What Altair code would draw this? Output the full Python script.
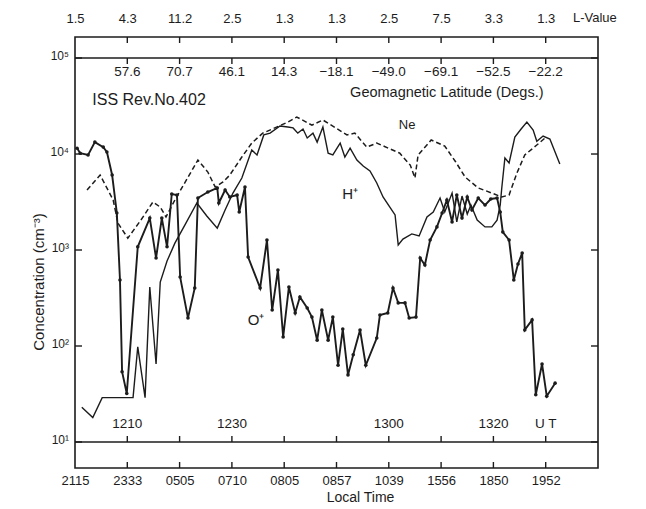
import altair as alt
import pandas as pd

# ---------------- data (x = UT minutes after 12:00) ----------------
ne_t = [2.3, 4.8, 7.3, 8.2, 10.1, 12.6, 14.9, 16.3, 17.4, 19.1, 23.5, 25.4, 26.8, 28.3, 29.6, 31.9,
        33.8, 35.9, 38.2, 40.7, 42.4, 45.3, 47.4, 52.0, 53.5, 55.8, 57.7, 62.1, 64.1, 65.0, 65.6,
        68.1, 70.7, 72.8, 74.6, 77.1, 79.7, 81.6, 83.0, 84.5, 86.0, 88.3, 89.9]
ne_v = [4220, 6040, 3320, 1910, 1330, 2050, 3160, 2800, 2210, 3320, 8660, 6490, 4530, 5110, 6040, 9300,
        13000, 16500, 18700, 21500, 24300, 20000, 22600, 15800, 16500, 11800, 13000, 10200, 7670, 5620, 9770,
        14000, 12100, 8260, 5750, 4430, 3920, 3570, 3740, 6340, 9770, 12400, 14700]

hp_t = [1.3, 3.4, 5.2, 7.1, 9.6, 11.1, 12.0, 13.4, 14.3, 15.5, 16.3, 17.6, 19.1, 21.0, 23.3,
        25.2, 27.2, 28.7, 30.2, 31.9, 33.8, 34.8, 36.1, 37.3, 39.2, 40.7, 41.7, 42.6, 43.6, 44.4,
        45.5, 46.3, 47.4, 48.4, 49.3, 50.7, 51.6, 52.6, 53.9, 55.1, 56.4, 57.7, 58.9, 60.2, 61.2,
        61.8, 62.7, 64.4, 65.8, 67.3, 68.5, 69.8, 70.7, 72.1, 73.0, 74.0, 75.0, 75.7, 76.9, 78.4,
        79.7, 80.7, 81.3, 81.6, 82.2, 83.0, 84.1, 85.3, 86.4, 87.6, 88.3, 89.5, 90.8, 92.7]
hp_v = [23, 18, 29, 29, 29, 29, 98, 29, 412, 65, 464, 767, 1180, 1820, 3090,
        2260, 1690, 2610, 3920, 5620, 11000, 9770, 15800, 16500, 19600, 19100, 18700, 16500, 18200, 14700,
        16500, 13300, 19100, 10200, 9770, 13000, 9300, 11500, 8660, 7500, 6650, 4990, 3570, 2800, 2320,
        1130, 1300, 1470, 1400, 2210, 2490, 3480, 2490, 3920, 1960, 3650, 2370, 2940, 2050, 1740,
        1740, 2050, 2940, 4430, 9090, 8060, 15000, 18200, 21500, 17800, 13600, 15400, 14300, 7870]

op_t = [0.4, 1.0, 2.5, 3.8, 5.4, 6.1, 7.1, 8.0, 8.6, 9.0, 9.9, 12.0, 14.3, 15.5, 16.6,
        17.6, 18.5, 19.5, 20.1, 21.6, 22.9, 23.5, 25.4, 27.2, 27.5, 28.7, 29.6, 31.0, 31.4, 32.5,
        33.1, 35.4, 36.7, 37.7, 38.8, 39.8, 40.9, 42.1, 43.0, 44.4, 45.3, 46.3, 47.2, 48.4, 49.3,
        50.3, 51.2, 52.2, 53.2, 54.5, 55.6, 57.7, 58.3, 59.8, 60.8, 61.8, 63.1, 63.9, 65.2, 66.0,
        66.9, 67.9, 69.2, 70.2, 71.1, 72.1, 73.0, 74.0, 75.0, 75.9, 77.1, 78.4, 79.5, 80.7, 81.3,
        81.8, 83.0, 83.9, 84.7, 85.5, 86.0, 87.4, 88.1, 89.3, 90.2, 91.8]
op_v = [11500, 10200, 9770, 13300, 11800, 10500, 6040, 2430, 487, 54, 32, 1080, 2150, 826, 2150,
        1080, 3830, 3740, 524, 196, 402, 3480, 4020, 4430, 3090, 4220, 3570, 3740, 2490, 4530,
        845, 402, 1270, 237, 619, 124, 412, 221, 324, 249, 200, 115, 237, 115, 200,
        63, 150, 50, 81, 147, 63, 121, 210, 221, 402, 281, 281, 196, 200, 826,
        698, 1270, 1740, 2430, 3320, 1960, 3740, 2150, 3570, 2610, 3480, 2940, 3400, 3480, 2490,
        1540, 1270, 487, 715, 931, 147, 187, 31, 65, 30, 41]

tick_t = [0, 10, 20, 30, 40, 50, 60, 70, 80, 90]
lt_labels = ["2115", "2333", "0505", "0710", "0805", "0857", "1039", "1556", "1850", "1952"]
l_labels = ["1.5", "4.3", "11.2", "2.5", "1.3", "1.3", "2.5", "7.5", "3.3", "1.3"]
inner_t = [10, 20, 30, 40, 50, 60, 70, 80, 90]
lat_labels = ["57.6", "70.7", "46.1", "14.3", "\u221218.1", "\u221249.0", "\u221269.1", "\u221252.5", "\u221222.2"]
ut_t = [10, 30, 60, 80, 90]
ut_labels = ["1210", "1230", "1300", "1320", "U T"]
decades = [10, 100, 1000, 10000, 100000]
decade_labels = ["10¹", "10²", "10³", "10⁴", "10⁵"]

# ---------------- layout / style ----------------
W, H = 523, 431
LOG_TOP, LOG_BOT = 5.219, 0.729
YMAX, YMIN = 10 ** LOG_TOP, 10 ** LOG_BOT
PXD = H / (LOG_TOP - LOG_BOT)          # pixels per decade


def ypos(px):
    """value on the log scale lying px pixels below the 10^5 line"""
    return 10 ** (5 - px / PXD)


TICK = 10 ** (6 / PXD)
FONT = "Liberation Sans, sans-serif"
INK = "#1c1c1c"

xs = alt.Scale(domain=[0, 100], nice=False, zero=False)
ys = alt.Scale(type="log", domain=[YMIN, YMAX], nice=False)


def lbl_expr(values, labels):
    expr = "''"
    for v, l in reversed(list(zip(values, labels))):
        expr = f"datum.value == {v} ? '{l}' : ({expr})"
    return expr


bottom_axis = alt.Axis(orient="bottom", values=tick_t, labelExpr=lbl_expr(tick_t, lt_labels),
                       ticks=False, domain=False, grid=False, labelFont=FONT, labelFontSize=13,
                       labelColor=INK, labelPadding=6, labelFlush=False,
                       title="Local Time", titleFont=FONT, titleFontSize=14, titleFontWeight="normal",
                       titleColor=INK, titleX=285, titleY=22, titleBaseline="top", titleAlign="center")
top_axis = alt.Axis(orient="top", values=tick_t, labelExpr=lbl_expr(tick_t, l_labels),
                    ticks=False, domain=False, grid=False, labelFont=FONT, labelFontSize=13,
                    labelColor=INK, labelPadding=12, labelFlush=False, title=None)

ne_df = pd.DataFrame({"t": ne_t, "v": ne_v})
hp_df = pd.DataFrame({"t": hp_t, "v": hp_v})
op_df = pd.DataFrame({"t": op_t, "v": op_v})


def X(axis=None):
    return alt.X("t:Q", scale=xs, axis=axis)


def Y(field="v:Q"):
    return alt.Y(field, scale=ys, axis=None)


ne = alt.Chart(ne_df).mark_line(color=INK, strokeWidth=1.5, strokeDash=[5, 3]).encode(
    x=X(bottom_axis), y=Y())
hp = alt.Chart(hp_df).mark_line(color=INK, strokeWidth=1.4).encode(x=X(), y=Y())
op = alt.Chart(op_df).mark_line(color=INK, strokeWidth=1.9).encode(x=X(), y=Y())
op_pts = alt.Chart(op_df).mark_circle(color=INK, size=13, opacity=1).encode(x=X(), y=Y())

hrules = alt.Chart(pd.DataFrame({"v": [1e5, 1e1]})).mark_rule(color=INK, strokeWidth=1.6).encode(y=Y())

tick_rows = []
for t in inner_t:
    tick_rows.append({"t": t, "y": 10, "y2": 10 * TICK})
    tick_rows.append({"t": t, "y": 1e5, "y2": 1e5 / TICK})
    tick_rows.append({"t": t, "y": YMIN, "y2": YMIN * TICK})
    tick_rows.append({"t": t, "y": YMAX, "y2": YMAX / TICK})
ticks = alt.Chart(pd.DataFrame(tick_rows)).mark_rule(color=INK, strokeWidth=1.4).encode(
    x=X(top_axis), y=Y("y:Q"), y2="y2:Q")

dec_df = pd.DataFrame({"v": decades, "label": decade_labels})
lticks = alt.Chart(dec_df).mark_rule(color=INK, strokeWidth=1.4).encode(
    y=Y(), x=alt.value(0), x2=alt.value(7))
rticks = alt.Chart(dec_df).mark_rule(color=INK, strokeWidth=1.4).encode(
    y=Y(), x=alt.value(W - 7), x2=alt.value(W))
# left axis labels and title (drawn as text through the y scale)
dec_txt = alt.Chart(dec_df).mark_text(font=FONT, fontSize=12, color=INK, align="right",
                                      baseline="middle", dy=-2).encode(
    y=Y(), x=alt.value(-6), text="label:N")
ytitle = alt.Chart(pd.DataFrame({"label": ["Concentration (cm⁻³)"]})).mark_text(
    font=FONT, fontSize=15, color=INK, angle=270, align="center", baseline="middle").encode(
    x=alt.value(-36), y=alt.value(245), text="label:N")


def text_layer(ts, labels, px, size, align="center"):
    df = pd.DataFrame({"t": ts, "label": labels, "y": [ypos(px)] * len(ts)})
    return alt.Chart(df).mark_text(font=FONT, fontSize=size, color=INK, align=align,
                                   baseline="middle").encode(x=X(), y=Y("y:Q"), text="label:N")


lat_txt = text_layer(inner_t, lat_labels, 14, 13.5)
ut_txt = text_layer(ut_t, ut_labels, 366, 13.5)

notes = [
    text_layer([3.3], ["ISS Rev.No.402"], 42, 16, "left"),
    text_layer([52.6], ["Geomagnetic Latitude (Degs.)"], 35, 14.5, "left"),
    text_layer([95.2], ["L-Value"], -40, 13, "left"),
    text_layer([63.5], ["Ne"], 67, 13),
    text_layer([52.6], ["H⁺"], 136, 15),
    text_layer([34.6], ["O⁺"], 262, 15),
]

chart = alt.layer(ne, hp, op, op_pts, hrules, ticks, lticks, rticks, dec_txt, ytitle,
                  lat_txt, ut_txt, *notes).resolve_scale(
    x="independent").resolve_axis(x="independent").properties(
    width=W, height=H, autosize=alt.AutoSizeParams(type="none"),
    padding={"left": 75, "top": 37, "right": 48, "bottom": 41}, background="white"
).configure_view(stroke=INK, strokeWidth=1.6)

chart.save("out.html", embed_options={"renderer": "svg", "actions": False})
